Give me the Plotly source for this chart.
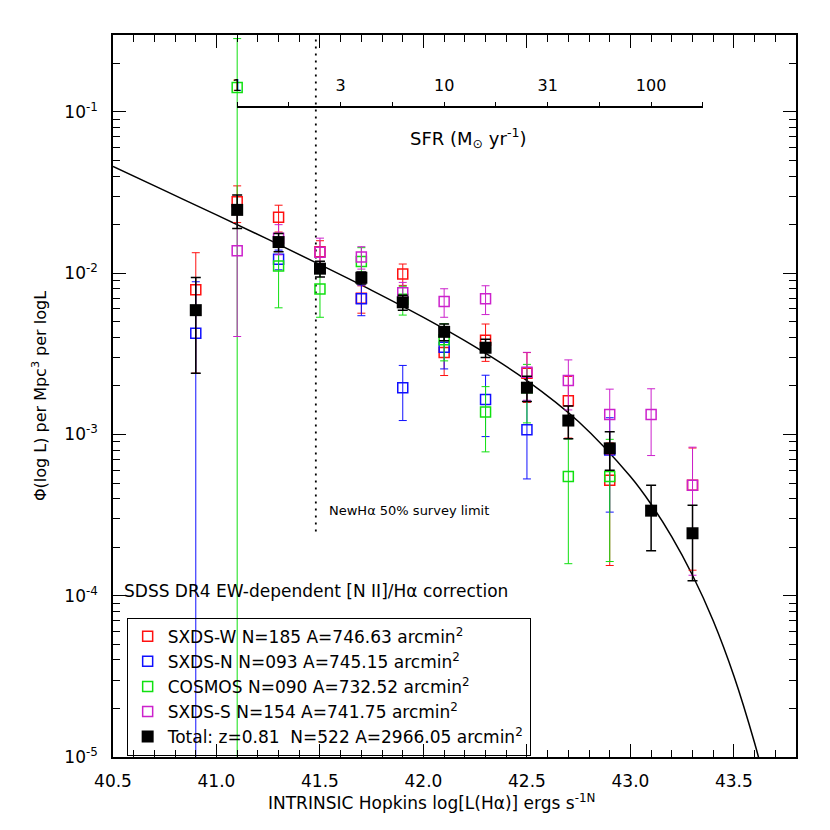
import plotly.graph_objects as go

# log L(Halpha) bin centres
log_l = [40.9, 41.1, 41.3, 41.5, 41.7, 41.9, 42.1, 42.3, 42.5, 42.7, 42.9, 43.1, 43.3]

# SXDS-W
phi_w = [7.9e-3, 0.0277, 0.0222, 0.0136, 7.0e-3, 9.9e-3, 3.22e-3, 3.84e-3, 2.4e-3, 1.62e-3, 5.2e-4, None, 4.84e-4]
err_w = [5.5e-3, 7.1e-3, 4.2e-3, 2.3e-3, 1.35e-3, 1.5e-3, 0.9e-3, 1.0e-3, 0.82e-3, 0.67e-3, 3.66e-4, None, 3.4e-4]
# SXDS-N
phi_n = [4.25e-3, None, 0.0122, None, 6.95e-3, 1.95e-3, 3.47e-3, 1.65e-3, 1.07e-3, None, 8.0e-4, None, None]
err_n = [4.6e-3, None, 1.7e-3, None, 1.5e-3, 0.73e-3, 0.92e-3, 0.68e-3, 0.54e-3, None, 0.47e-3, None, None]
# COSMOS
phi_c = [None, 0.142, 0.0111, 7.98e-3, 0.0118, 6.9e-3, 3.86e-3, 1.38e-3, 1.95e-3, 5.48e-4, 5.48e-4, None, None]
err_c = [None, 0.143, 5.0e-3, 2.65e-3, 2.6e-3, 1.4e-3, 1.0e-3, 0.6e-3, 0.77e-3, 3.9e-4, 3.85e-4, None, None]
# SXDS-S
phi_s = [None, 0.0138, 0.0165, 0.0135, 0.0126, 7.57e-3, 6.67e-3, 6.95e-3, 2.43e-3, 2.16e-3, 1.33e-3, 1.33e-3, 4.84e-4]
err_s = [None, 9.75e-3, 3.5e-3, 3.0e-3, 2.0e-3, 1.2e-3, 1.34e-3, 1.41e-3, 0.8e-3, 0.74e-3, 0.58e-3, 0.59e-3, 3.5e-4]
# Total
phi_tot = [5.9e-3, 0.0247, 0.0156, 0.01067, 9.37e-3, 6.6e-3, 4.33e-3, 3.45e-3, 1.95e-3, 1.22e-3, 8.2e-4, 3.37e-4, 2.44e-4]
err_tot = [3.5e-3, 5.8e-3, 2.0e-3, 1.2e-3, 0.8e-3, 0.7e-3, 0.52e-3, 0.45e-3, 0.35e-3, 0.28e-3, 0.22e-3, 1.47e-4, 1.2e-4]

# fitted curve
fit_logl = [40.5, 40.75, 41.0, 41.25, 41.5, 41.75, 42.0, 42.25, 42.5, 42.75, 43.0, 43.1, 43.2, 43.3, 43.4, 43.5, 43.6, 43.65]
fit_phi = [0.0459, 0.0325, 0.0230, 0.0162, 0.0113, 0.00783, 0.00532, 0.00349, 0.00216, 0.00120,
           5.48e-4, 3.69e-4, 2.32e-4, 1.34e-4, 7.0e-5, 3.18e-5, 1.22e-5, 7.0e-6]

# survey limit
limit_logl = 41.48
limit_phi = [2.5e-4, 0.3]

# y tick labels
y_tickvals = [1e-5, 1e-4, 1e-3, 1e-2, 1e-1]
y_ticktext = ["10<sup>-5</sup>", "10<sup>-4</sup>", "10<sup>-3</sup>", "10<sup>-2</sup>", "10<sup>-1</sup>"]

# SFR scale
sfr_ticks = [1, 3.162, 10, 31.62, 100]
sfr_labels = ["1", "3", "10", "31", "100"]
sfr_minor = [1.778, 5.623, 17.78, 56.23, 177.8]
sfr_start_logl = 41.1
sfr_end_logl = 43.35

series = [
    ("SXDS-W N=185 A=746.63 arcmin<sup>2</sup>", phi_w, err_w, "#ff1010"),
    ("SXDS-N N=093 A=745.15 arcmin<sup>2</sup>", phi_n, err_n, "#1010ff"),
    ("COSMOS N=090 A=732.52 arcmin<sup>2</sup>", phi_c, err_c, "#10e010"),
    ("SXDS-S N=154 A=741.75 arcmin<sup>2</sup>", phi_s, err_s, "#cc22cc"),
]

X_RANGE = [40.5, 43.8]
Y_RANGE = [-5, -0.5229]
FONT = "DejaVu Sans"

fig = go.Figure()

fig.add_trace(go.Scatter(
    x=fit_logl, y=fit_phi, mode="lines", line=dict(color="black", width=1.5, shape="spline"),
    showlegend=False, hoverinfo="skip",
))
fig.add_trace(go.Scatter(
    x=[limit_logl, limit_logl], y=limit_phi, mode="lines",
    line=dict(color="black", width=1.8, dash="2px,5px"), showlegend=False, hoverinfo="skip",
))

for name, phi, err, color in series:
    fig.add_trace(go.Scatter(
        x=log_l, y=phi, mode="markers", name=name,
        marker=dict(symbol="square-open", size=10, color=color, line=dict(width=1.5, color=color)),
        error_y=dict(type="data", array=err, visible=True, color=color, thickness=1, width=4),
    ))

fig.add_trace(go.Scatter(
    x=log_l, y=phi_tot, mode="markers",
    name="Total: z=0.81\u00a0\u00a0N=522 A=2966.05 arcmin<sup>2</sup>",
    marker=dict(symbol="square", size=12, color="black"),
    error_y=dict(type="data", array=err_tot, visible=True, color="black", thickness=1.5, width=5),
))

# invisible trace to carry the SFR axis
fig.add_trace(go.Scatter(
    x=[sfr_ticks[0], sfr_ticks[-1]], y=[None, None], xaxis="x2", mode="markers",
    showlegend=False, hoverinfo="skip",
))

span = X_RANGE[1] - X_RANGE[0]
sfr_domain = [(sfr_start_logl - X_RANGE[0]) / span, (sfr_end_logl - X_RANGE[0]) / span]

axis_common = dict(
    showline=True, linecolor="black", linewidth=1.5, mirror="ticks",
    ticks="inside", ticklen=13, tickwidth=1, tickcolor="black",
    showgrid=False, zeroline=False,
    tickfont=dict(size=17, color="black", family=FONT),
)

fig.update_layout(
    width=830, height=830,
    margin=dict(l=105, r=42, t=27, b=81),
    paper_bgcolor="white", plot_bgcolor="rgba(0,0,0,0)",
    font=dict(family=FONT, color="black", size=16),
    xaxis=dict(
        **axis_common, range=X_RANGE, tick0=40.5, dtick=0.5, tickformat=".1f",
        ticklabelstandoff=8,
        minor=dict(ticks="inside", ticklen=7, dtick=0.1, tick0=40.5, tickcolor="black"),
    ),
    yaxis=dict(
        **axis_common, type="log", range=Y_RANGE,
        tickmode="array", tickvals=y_tickvals, ticktext=y_ticktext,
        ticklabelstandoff=10,
        minor=dict(tickmode="linear", tick0=0, dtick="D1", ticks="inside", ticklen=7, tickcolor="black"),
        title=dict(text="\u03a6(log L) per Mpc<sup>3</sup> per logL", font=dict(size=16), standoff=14),
    ),
    xaxis2=dict(
        type="log", range=[0, 2.25], domain=sfr_domain, anchor="free", position=0.9,
        side="top", showline=True, linecolor="black", linewidth=1.5,
        tickmode="array", tickvals=sfr_ticks, ticktext=sfr_labels,
        ticks="outside", ticklen=4, tickcolor="black", ticklabelstandoff=5,
        minor=dict(tickmode="array", tickvals=sfr_minor, ticks="outside", ticklen=4, tickcolor="black"),
        showgrid=False, zeroline=False,
        tickfont=dict(size=16, color="black", family=FONT),
    ),
    legend=dict(
        x=0.02, y=0.193, xanchor="left", yanchor="top",
        bordercolor="black", borderwidth=1, bgcolor="rgba(255,255,255,0)",
        font=dict(size=17, color="black", family=FONT),
        tracegroupgap=0, itemwidth=30,
    ),
    annotations=[
        dict(text="INTRINSIC Hopkins log[L(H\u03b1)] ergs s<sup>-1N</sup>", xref="paper", yref="paper",
             x=0.467, y=-0.063, yanchor="middle", showarrow=False, font=dict(size=17)),
        dict(text="SFR (M<sub>\u2299</sub> yr<sup>-1</sup>)", xref="paper", yref="paper",
             x=0.52, y=0.857, yanchor="middle", showarrow=False, font=dict(size=18)),
        dict(text="NewH\u03b1 50% survey limit", xref="paper", yref="paper",
             x=0.313, y=0.341, xanchor="left", yanchor="middle", showarrow=False, font=dict(size=13)),
        dict(text="SDSS DR4 EW-dependent [N II]/H\u03b1 correction", xref="paper", yref="paper",
             x=0.013, y=0.2303, xanchor="left", yanchor="middle", showarrow=False, font=dict(size=17)),
    ],
)

fig.write_html("out.html")
